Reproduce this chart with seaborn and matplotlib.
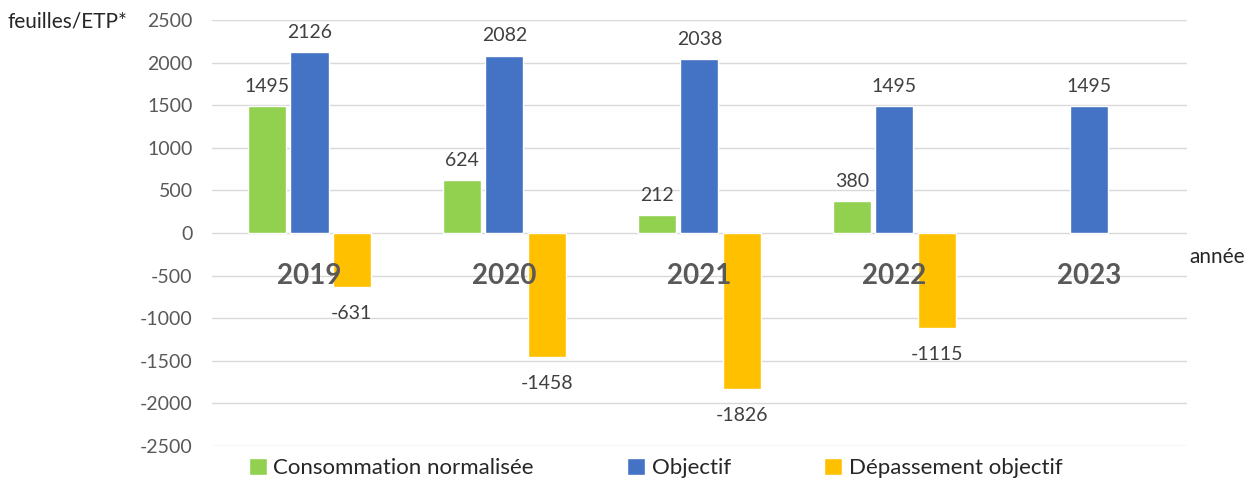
import pandas as pd
import matplotlib
matplotlib.use("Agg")
import matplotlib.pyplot as plt
import seaborn as sns

# data
years = ["2019", "2020", "2021", "2022", "2023"]
consommation = [1495, 624, 212, 380, None]
objectif = [2126, 2082, 2038, 1495, 1495]
depassement = [-631, -1458, -1826, -1115, None]
series = ["Consommation normalisée", "Objectif", "Dépassement objectif"]
colors = ["#92D050", "#4472C4", "#FFC000"]

rows = []
for name, vals in zip(series, [consommation, objectif, depassement]):
    for y, v in zip(years, vals):
        rows.append({"annee": y, "serie": name, "valeur": v})
df = pd.DataFrame(rows)

sns.set_style("white")
plt.rcParams["font.family"] = ["Lato", "DejaVu Sans"]
plt.rcParams["axes.unicode_minus"] = False

fig = plt.figure(figsize=(12.56, 4.84), dpi=100)
ax = fig.add_axes([0.1688, 0.0785, 0.7762, 0.8802])

sns.barplot(data=df, x="annee", y="valeur", hue="serie", hue_order=series,
            palette=colors, width=0.65, gap=0.1, saturation=1, ax=ax, legend=True)

ax.set_ylim(-2500, 2500)
ax.set_yticks(range(-2500, 2501, 500))
ax.yaxis.grid(True, color="#d9d9d9", linewidth=1)
ax.set_axisbelow(True)
for s in ax.spines.values():
    s.set_visible(False)
ax.tick_params(axis="y", labelsize=14, labelcolor="#595959", length=0, pad=14)
ax.set_xticks([])
ax.set_xlabel("")
ax.set_ylabel("")

# value labels, negatives sit a little lower
for cont in ax.containers:
    vals = cont.datavalues
    pos = [f"{v:.0f}" if v >= 0 else "" for v in vals]
    neg = [f"{v:.0f}" if v < 0 else "" for v in vals]
    ax.bar_label(cont, labels=pos, padding=8, fontsize=14, color="#404040")
    ax.bar_label(cont, labels=neg, padding=13, fontsize=14, color="#404040")

# year labels sitting near the zero line
for i, y in enumerate(years):
    ax.text(i, -500, y, ha="center", va="center", fontsize=20,
            fontweight="bold", color="#595959")

fig.text(0.006, 0.955, "feuilles/ETP*", fontsize=15, va="center", ha="left")
fig.text(0.947, 0.468, "année", fontsize=15, va="center", ha="left")

handles, labels = ax.get_legend_handles_labels()
ax.legend_.remove()
fig.legend(handles, labels, loc="center", bbox_to_anchor=(0.522, 0.033), ncol=3,
           frameon=False, fontsize=16, handlelength=0.8, handleheight=0.8,
           handletextpad=0.3, columnspacing=4.2)

fig.savefig("out.png", dpi=100)
